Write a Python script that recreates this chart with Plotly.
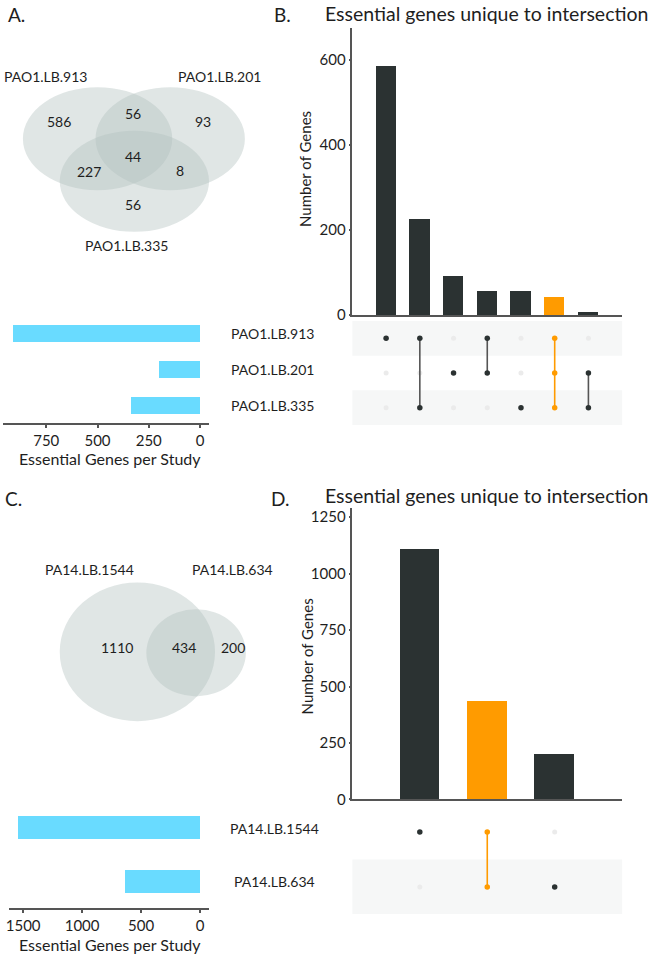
import plotly.graph_objects as go

W, H = 652, 962

# ---------------- data ----------------
setsA = ["PAO1.LB.913", "PAO1.LB.201", "PAO1.LB.335"]
setSizesA = [913, 201, 335]
vennA_counts = [586, 56, 93, 227, 44, 8, 56]
interA_counts = [586, 227, 93, 56, 56, 44, 8]
interA_members = [[0], [0, 2], [1], [0, 1], [2], [0, 1, 2], [1, 2]]
interA_highlight = [False, False, False, False, False, True, False]

setsC = ["PA14.LB.1544", "PA14.LB.634"]
setSizesC = [1544, 634]
vennC_counts = [1110, 434, 200]
interC_counts = [1110, 434, 200]
interC_members = [[0], [0, 1], [1]]
interC_highlight = [False, True, False]

ticksA = [750, 500, 250, 0]
ticksB = [0, 200, 400, 600]
ticksC = [1500, 1000, 500, 0]
ticksD = [0, 250, 500, 750, 1000, 1250]

# ---------------- styling / layout constants ----------------
FONT = "Lato"
TXT = "#1e1e1e"
DARK = "#2b3232"
ORANGE = "#ff9b00"
CYAN = "#69dbff"
LINEGRAY = "#555555"
INACT = "#ebebeb"
BAND = "#f6f7f7"
VENN_FILL = "rgba(178,192,190,0.40)"

# Venn geometry (pixel space): cx, cy, rx, ry
vennA_circles = [(95, 139, 75, 52), (168, 139, 75, 52), (132, 182, 75, 51)]
vennA_label_pos = [(43, 76), (217, 76), (124, 247)]
vennA_count_pos = [(56, 122), (131, 114), (201, 122), (86, 172), (131, 157), (178, 171), (131, 205)]
vennC_circles = [(135, 657, 78, 70), (194, 658, 50, 44)]
vennC_label_pos = [(87, 574), (231, 574)]
vennC_count_pos = [(115, 653), (182, 653), (231, 653)]


def xdom(a, b):
    return [a / W, b / W]


def ydom(top, bot):
    return [1 - bot / H, 1 - top / H]


fig = go.Figure()

# ---- A: set size bars ----
fig.add_trace(go.Bar(x=setSizesA, y=list(range(len(setsA))), orientation="h",
                     marker=dict(color=CYAN, line=dict(width=0)), width=0.47,
                     xaxis="x2", yaxis="y2", showlegend=False))

# ---- B: intersection bars ----
fig.add_trace(go.Bar(x=list(range(len(interA_counts))), y=interA_counts,
                     marker=dict(color=[ORANGE if h else DARK for h in interA_highlight], line=dict(width=0)),
                     width=0.6, xaxis="x3", yaxis="y3", showlegend=False))


def add_matrix(members, highlight, nsets, xa, ya):
    ix, iy = [], []
    for c, mem in enumerate(members):
        for r in range(nsets):
            if r not in mem:
                ix.append(c)
                iy.append(r)
    fig.add_trace(go.Scatter(x=ix, y=iy, mode="markers", marker=dict(color=INACT, size=5),
                             xaxis=xa, yaxis=ya, showlegend=False, hoverinfo="skip"))
    for c, mem in enumerate(members):
        col = ORANGE if highlight[c] else DARK
        lcol = ORANGE if highlight[c] else LINEGRAY
        ys = sorted(mem)
        fig.add_trace(go.Scatter(x=[c] * len(ys), y=ys, mode="lines+markers",
                                 line=dict(color=lcol, width=1.6),
                                 marker=dict(color=col, size=5.5),
                                 xaxis=xa, yaxis=ya, showlegend=False))


add_matrix(interA_members, interA_highlight, len(setsA), "x4", "y4")

# ---- C: set size bars ----
fig.add_trace(go.Bar(x=setSizesC, y=list(range(len(setsC))), orientation="h",
                     marker=dict(color=CYAN, line=dict(width=0)), width=0.43,
                     xaxis="x5", yaxis="y5", showlegend=False))

# ---- D: intersection bars ----
fig.add_trace(go.Bar(x=list(range(len(interC_counts))), y=interC_counts,
                     marker=dict(color=[ORANGE if h else DARK for h in interC_highlight], line=dict(width=0)),
                     width=0.59, xaxis="x6", yaxis="y6", showlegend=False))

add_matrix(interC_members, interC_highlight, len(setsC), "x7", "y7")

# ---------------- shapes ----------------
shapes = []
for (cx, cy, rx, ry) in vennA_circles + vennC_circles:
    shapes.append(dict(type="circle", xref="x", yref="y", x0=cx - rx, x1=cx + rx,
                       y0=cy - ry, y1=cy + ry, fillcolor=VENN_FILL, line=dict(width=0), layer="below"))
for r in [0, 2]:
    shapes.append(dict(type="rect", xref="x4 domain", yref="y4", x0=0, x1=1, y0=r - 0.5, y1=r + 0.5,
                       fillcolor=BAND, line=dict(width=0), layer="below"))
shapes.append(dict(type="rect", xref="x7 domain", yref="y7", x0=0, x1=1, y0=0.5, y1=1.5,
                   fillcolor=BAND, line=dict(width=0), layer="below"))

# ---------------- annotations ----------------
ann = []


def txt(x, y, s, size=14, xref="x", yref="y", **kw):
    ann.append(dict(x=x, y=y, xref=xref, yref=yref, text=s, showarrow=False,
                    font=dict(family=FONT, size=size, color=TXT), **kw))


for (px, py), s in zip(vennA_label_pos, setsA):
    txt(px, py, s)
for (px, py), n in zip(vennA_count_pos, vennA_counts):
    txt(px, py, str(n))
for (px, py), s in zip(vennC_label_pos, setsC):
    txt(px, py, s)
for (px, py), n in zip(vennC_count_pos, vennC_counts):
    txt(px, py, str(n))

for i, s in enumerate(setsA):
    txt(271, i, s, yref="y2")
for i, s in enumerate(setsC):
    txt(273, i, s, yref="y5")

txt(14, 14, "A.", size=19)
txt(281, 14, "B.", size=19)
txt(11, 502, "C.", size=19)
txt(279, 502, "D.", size=19)
txt(486, 13, "Essential genes unique to intersection", size=19.5)
txt(486, 499, "Essential genes unique to intersection", size=19.5)
txt(107, 462, "Essential Genes per Study", size=16)
txt(107, 952, "Essential Genes per Study", size=16)
txt(304, 170, "Number of Genes", size=15, textangle=-90)
txt(305, 662, "Number of Genes", size=15, textangle=-90)

# ---------------- axes ----------------
hidden = dict(visible=False, showgrid=False, zeroline=False, fixedrange=True)
tickfont = dict(family=FONT, size=15, color=TXT)
axline = dict(showline=True, linecolor=LINEGRAY, linewidth=1.5, showgrid=False, zeroline=False,
              ticks="outside", ticklen=3, tickwidth=1.5, tickcolor=LINEGRAY, tickfont=tickfont)

fig.update_layout(
    width=W, height=H, margin=dict(l=0, r=0, t=0, b=0),
    paper_bgcolor="white", plot_bgcolor="rgba(0,0,0,0)",
    shapes=shapes, annotations=ann, bargap=0,
    xaxis=dict(domain=[0, 1], range=[0, W], anchor="y", **hidden),
    yaxis=dict(domain=[0, 1], range=[H, 0], anchor="x", **hidden),
    # A set sizes
    xaxis2=dict(domain=xdom(0, 207), range=[961, -44], anchor="y2", tickvals=ticksA, **axline),
    yaxis2=dict(domain=ydom(318, 426), range=[2.5, -0.5], anchor="x2", **hidden),
    # B bars
    xaxis3=dict(domain=xdom(351, 622), range=[-1, 7], anchor="y3", showline=True, linecolor=LINEGRAY,
                linewidth=1.5, showticklabels=False, ticks="", showgrid=False, zeroline=False),
    yaxis3=dict(domain=ydom(27, 317), range=[0, 675], anchor="x3", tickvals=ticksB,
                **{**axline, "ticklen": 2}),
    # B matrix
    xaxis4=dict(domain=xdom(351, 622), range=[-1, 7], anchor="y4", **hidden),
    yaxis4=dict(domain=ydom(323, 428), range=[2.5, -0.5], anchor="x4", **hidden),
    # C set sizes
    xaxis5=dict(domain=xdom(6, 207), range=[1620, -76], anchor="y5", tickvals=ticksC, **axline),
    yaxis5=dict(domain=ydom(808, 916), range=[1.5, -0.5], anchor="x5", **hidden),
    # D bars
    xaxis6=dict(domain=xdom(351, 622), range=[-1, 3], anchor="y6", showline=True, linecolor=LINEGRAY,
                linewidth=1.5, showticklabels=False, ticks="", showgrid=False, zeroline=False),
    yaxis6=dict(domain=ydom(512, 806), range=[0, 1290], anchor="x6", tickvals=ticksD,
                **{**axline, "ticklen": 2}),
    # D matrix
    xaxis7=dict(domain=xdom(351, 622), range=[-1, 3], anchor="y7", **hidden),
    yaxis7=dict(domain=ydom(811, 922), range=[1.5, -0.5], anchor="x7", **hidden),
)

fig.write_html("out.html", config={"displayModeBar": False},
               post_script="document.body.style.margin='0';document.body.style.overflow='hidden';")
